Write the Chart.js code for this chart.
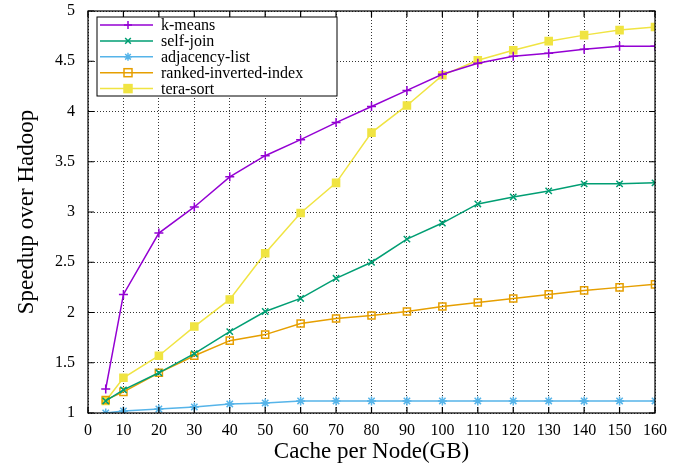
<!DOCTYPE html>
<html>
<head>
<meta charset="utf-8">
<script src="https://cdn.jsdelivr.net/npm/chart.js@4.4.1/dist/chart.umd.min.js"></script>
<style>
html,body{margin:0;padding:0;background:#fff;}
#wrap{width:691px;height:466px;position:relative;}
</style>
</head>
<body>
<div id="wrap"><canvas id="c" width="691" height="466"></canvas></div>
<script>
const cacheGB=[5,10,20,30,40,50,60,70,80,90,100,110,120,130,140,150,160];
const kMeans=[1.24,2.18,2.79,3.05,3.35,3.56,3.72,3.89,4.05,4.21,4.37,4.48,4.55,4.58,4.62,4.65,4.65];
const selfJoin=[1.12,1.23,1.40,1.59,1.81,2.01,2.14,2.34,2.50,2.73,2.89,3.08,3.15,3.21,3.28,3.28,3.29];
const adjacencyList=[1.00,1.02,1.04,1.06,1.09,1.10,1.12,1.12,1.12,1.12,1.12,1.12,1.12,1.12,1.12,1.12,1.12];
const rankedIndex=[1.13,1.21,1.40,1.57,1.72,1.78,1.89,1.94,1.97,2.01,2.06,2.10,2.14,2.18,2.22,2.25,2.28];
const teraSort=[1.12,1.35,1.57,1.86,2.13,2.59,2.99,3.29,3.79,4.06,4.36,4.51,4.61,4.70,4.76,4.81,4.84];

const SERIF="'Liberation Serif','DejaVu Serif',serif";
const pts=arr=>arr.map((v,i)=>({x:cacheGB[i],y:v}));
function ds(label,data,color,style,filled){
  return{label,data:pts(data),borderColor:color,backgroundColor:filled?color:"#ffffff",
    borderWidth:1.5,pointStyle:style,pointRadius:style==="rect"?5:4.5,pointBorderWidth:1.5,
    pointBackgroundColor:filled?color:"rgba(0,0,0,0)",tension:0,fill:false};
}

const frame={
  id:"frame",
  afterDraw(chart){
    const {ctx,chartArea:a,scales:{x,y}}=chart;
    ctx.save();
    ctx.strokeStyle="#000";ctx.lineWidth=1.2;ctx.setLineDash([]);
    ctx.strokeRect(a.left,a.top,a.right-a.left,a.bottom-a.top);
    const t=6;
    ctx.beginPath();
    x.ticks.forEach(tk=>{const px=x.getPixelForValue(tk.value);
      ctx.moveTo(px,a.bottom);ctx.lineTo(px,a.bottom-t);ctx.moveTo(px,a.top);ctx.lineTo(px,a.top+t);});
    y.ticks.forEach(tk=>{const py=y.getPixelForValue(tk.value);
      ctx.moveTo(a.left,py);ctx.lineTo(a.left+t,py);ctx.moveTo(a.right,py);ctx.lineTo(a.right-t,py);});
    ctx.stroke();
    // legend box
    const lx=a.left+9,ly=a.top+6,lw=240,lh=79;
    ctx.fillStyle="#fff";ctx.fillRect(lx,ly,lw,lh);
    ctx.lineWidth=1;ctx.strokeRect(lx,ly,lw,lh);
    ctx.font="16px "+SERIF;ctx.textBaseline="middle";ctx.textAlign="left";
    chart.data.datasets.forEach((d,i)=>{
      const yy=ly+8+i*15.9;
      ctx.strokeStyle=d.borderColor;ctx.fillStyle=d.pointBackgroundColor;ctx.lineWidth=1.5;
      ctx.beginPath();ctx.moveTo(lx+3,yy);ctx.lineTo(lx+56,yy);ctx.stroke();
      if(d.pointStyle==="rect"){
        ctx.fillRect(lx+27,yy-4,8,8);
        ctx.strokeRect(lx+27,yy-4,8,8);
      }else{
        Chart.helpers.drawPoint(ctx,{pointStyle:d.pointStyle,radius:4,rotation:0,borderWidth:1.5},lx+31,yy);
      }
      ctx.fillStyle="#000";ctx.fillText(d.label,lx+64,yy+1);
    });
    ctx.restore();
  }
};

new Chart(document.getElementById("c"),{
  type:"line",
  data:{datasets:[
    ds("k-means",kMeans,"#9400d3","cross",false),
    ds("self-join",selfJoin,"#009e73","crossRot",false),
    ds("adjacency-list",adjacencyList,"#56b4e9","star",false),
    ds("ranked-inverted-index",rankedIndex,"#e69f00","rect",false),
    ds("tera-sort",teraSort,"#f0e442","rect",true)
  ]},
  options:{
    responsive:false,animation:false,
    layout:{padding:{left:13,right:36,top:11,bottom:0}},
    plugins:{legend:{display:false},tooltip:{enabled:false}},
    scales:{
      x:{type:"linear",min:0,max:160,
        ticks:{stepSize:10,color:"#000",font:{family:SERIF,size:16},padding:8,maxRotation:0},
        grid:{color:"#000",lineWidth:0.8,drawTicks:false},
        border:{display:false,dash:[1,2]},
        title:{display:true,text:"Cache per Node(GB)",color:"#000",font:{family:SERIF,size:23},padding:{top:5,bottom:0}},
        afterFit(s){s.height=53;}
      },
      y:{min:1,max:5,
        ticks:{stepSize:0.5,color:"#000",font:{family:SERIF,size:16},padding:1,callback:v=>String(v)},
        grid:{color:"#000",lineWidth:0.8,drawTicks:true,tickLength:12,tickColor:"rgba(0,0,0,0)"},
        border:{display:false,dash:[1,2]},
        title:{display:true,text:"Speedup over Hadoop",color:"#000",font:{family:SERIF,size:23},padding:{top:0,bottom:8}},
        afterFit(s){s.width=75;}
      }
    }
  },
  plugins:[frame]
});
</script>
</body>
</html>
